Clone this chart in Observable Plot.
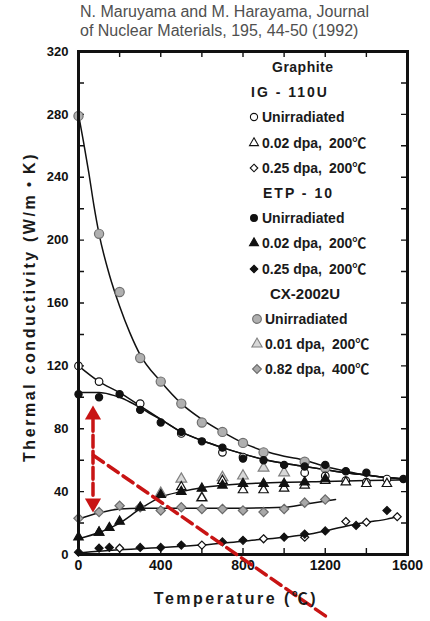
<!DOCTYPE html>
<html><head><meta charset="utf-8">
<script src="https://cdn.jsdelivr.net/npm/d3@7"></script>
<script src="https://cdn.jsdelivr.net/npm/@observablehq/plot@0.6"></script>
<style>
html,body{margin:0;padding:0;background:#fff;}
#wrap{position:relative;width:430px;height:621px;overflow:hidden;font-family:"Liberation Sans",Arial,"Noto Sans CJK JP",sans-serif;}
#cap{position:absolute;left:80px;top:2px;font-size:16px;line-height:19px;color:#505050;white-space:nowrap;}
#chart{position:absolute;left:0;top:42px;}
.lg{position:absolute;white-space:nowrap;font-size:14px;font-weight:bold;color:#1a1a1a;line-height:16px;display:flex;align-items:center;}
.lg svg{margin-right:2px;overflow:visible;}
.ttl{position:absolute;white-space:nowrap;font-size:16px;font-weight:bold;color:#1a1a1a;}
</style></head>
<body>
<div id="wrap">
  <div id="cap">N. Maruyama and M. Harayama, Journal<br>of Nuclear Materials, 195, 44-50 (1992)</div>
  <div id="chart"></div>
</div>
<script>
// ---------- data (temperature °C, thermal conductivity W/m·K) ----------
const xTickLabels = [0, 400, 800, 1200, 1600];
const xTicksMinor = [0, 200, 400, 600, 800, 1000, 1200, 1400, 1600];
const yTickLabels = [0, 40, 80, 120, 160, 200, 240, 280, 320];
const yTicksMinor = [0, 20, 40, 60, 80, 100, 120, 140, 160, 180, 200, 220, 240, 260, 280, 300, 320];

// IG-110U
const igUnirrT = [0, 100, 300, 500, 700, 800, 1100, 1200, 1300, 1400, 1500];
const igUnirrK = [120, 110, 96, 77, 65, 62, 52, 50, 47, 46, 48];
const ig002T = [100, 500, 600, 700, 800, 900, 1000, 1100, 1200, 1300, 1400, 1500];
const ig002K = [14, 43, 36, 47, 41, 41, 42, 44, 47, 46, 45, 45];
const ig025T = [200, 600, 900, 1100, 1300, 1400, 1550];
const ig025K = [4, 6, 10, 11, 21, 20.5, 24];

// ETP-10
const etpUnirrT = [0, 100, 200, 300, 400, 500, 600, 700, 800, 900, 1000, 1100, 1200, 1300, 1400, 1580];
const etpUnirrK = [102, 100, 102, 92, 84, 78, 72, 68, 61, 60, 57, 56, 57, 53, 52, 48];
const etp002T = [0, 100, 150, 200, 300, 400, 500, 600, 700, 800, 900, 1000, 1100, 1200];
const etp002K = [11, 14, 17, 21, 30, 38, 40, 42, 44, 45, 45, 45, 46, 48];
const etp025T = [0, 100, 150, 300, 400, 500, 700, 800, 1000, 1100, 1200, 1350, 1500];
const etp025K = [1.5, 4, 4.5, 4.5, 4.5, 6, 8, 9, 11, 13, 15, 18.5, 28];

// CX-2002U
const cxUnirrT = [0, 100, 200, 300, 400, 500, 600, 700, 800, 900, 1100, 1200];
const cxUnirrK = [279, 204, 167, 125, 110, 96, 84, 78, 71, 65, 59, 55];
const cx001T = [400, 500, 600, 700, 800, 900, 1000];
const cx001K = [39, 48, 36, 49, 50, 55, 52];
const cx082T = [0, 100, 200, 300, 400, 500, 600, 700, 800, 900, 1000, 1100, 1200];
const cx082K = [23, 27, 31, 30, 28, 30, 29, 29, 28, 27, 29, 33, 35];

// fitted curves
const fitCxT = [0, 25, 50, 75, 100, 150, 200, 250, 300, 400, 500, 600, 700, 800, 900, 1000, 1100, 1200, 1300, 1400, 1500, 1600];
const fitCxK = [280, 262, 243, 222, 204, 178, 158, 141, 127, 110, 96, 86, 78, 71, 66, 62.5, 60, 56, 53, 50.5, 49, 48];
const fitIgT = [0, 100, 200, 300, 400, 500, 600, 700, 800, 900, 1000, 1100, 1200, 1300, 1400, 1500, 1600];
const fitIgK = [120, 110, 103, 94.5, 86, 78, 72.5, 68, 64, 60.5, 58, 56, 54, 52, 50.5, 49, 48];
const fitEtpT = [0, 100, 150, 200, 250, 300, 350, 400, 500, 600, 700, 800, 900, 1000, 1100, 1200, 1300, 1400, 1500, 1600];
const fitEtpK = [103, 103, 102, 100, 97, 93.5, 89.5, 86, 78, 72.5, 68, 64, 60.5, 58, 56, 54, 52, 50.5, 49, 48];
const fitRiseT = [0, 100, 200, 300, 400, 500, 600, 700, 800, 900, 1000, 1200, 1400, 1600];
const fitRiseK = [10, 14, 20, 29, 36.5, 40, 42.5, 44, 45, 45.5, 46, 46.5, 47, 47.5];
const fitCx082T = [0, 100, 200, 300, 400, 600, 800, 1000, 1100, 1250];
const fitCx082K = [22.5, 26.5, 29, 29.5, 29.5, 29.5, 29.5, 30, 32, 35];
const fitLowT = [0, 200, 400, 600, 800, 1000, 1100, 1200, 1300, 1400, 1500, 1560];
const fitLowK = [1, 3, 4.5, 6, 8.5, 11, 12.5, 15, 18, 20.5, 22.5, 24.5];

// red annotation (arrow + dashed pointer)
const arrowT = [70.5, 70.5];
const arrowK = [86, 36];
const headTopT = [70.5], headTopK = [88.9];
const headBotT = [70.5], headBotK = [32.6];
const pointerT = [73, 1211];
const pointerK = [63, -40];

// legend labels
const legendRows = [
  {kind: "head", text: "Graphite"},
  {kind: "group", text: "IG - 110U"},
  {kind: "item", key: "igU", text: "Unirradiated"},
  {kind: "item", key: "ig02", text: "0.02 dpa,\u2002200\u2103"},
  {kind: "item", key: "ig25", text: "0.25 dpa,\u2002200\u2103"},
  {kind: "group", text: "ETP - 10"},
  {kind: "item", key: "etU", text: "Unirradiated"},
  {kind: "item", key: "et02", text: "0.02 dpa,\u2002200\u2103"},
  {kind: "item", key: "et25", text: "0.25 dpa,\u2002200\u2103"},
  {kind: "group2", text: "CX-2002U"},
  {kind: "item", key: "cxU", text: "Unirradiated"},
  {kind: "item", key: "cx01", text: "0.01 dpa,\u2002200\u2103"},
  {kind: "item", key: "cx82", text: "0.82 dpa,\u2002400\u2103"}
];

// ---------- styles ----------
const ST = {
  igU:  {sym: "circle",   fill: "#fff",    stroke: "#111", r: 3.8},
  ig02: {sym: "triangle", fill: "#fff",    stroke: "#111", r: 3.5},
  ig25: {sym: "diamond2", fill: "#fff",    stroke: "#111", r: 3.6},
  etU:  {sym: "circle",   fill: "#111",    stroke: "#111", r: 3.6},
  et02: {sym: "triangle", fill: "#111",    stroke: "#111", r: 3.5},
  et25: {sym: "diamond2", fill: "#111",    stroke: "#111", r: 3.6},
  cxU:  {sym: "circle",   fill: "#b0b0b0", stroke: "#707070", r: 4.6},
  cx01: {sym: "triangle", fill: "#d8d8d8", stroke: "#808080", r: 4},
  cx82: {sym: "diamond2", fill: "#a8a8a8", stroke: "#6a6a6a", r: 4.2}
};
const RED = "#c81414";

const W = 430, H = 579, ML = 78, MR = 23, MT = 9, MB = 67;
const innerW = W - ML - MR, innerH = H - MT - MB, TICK = 6;

const tab = (T, K) => T.map((t, i) => ({T: t, k: K[i]}));
const fitLine = (T, K) => Plot.line(tab(T, K), {x: "T", y: "k", curve: "monotone-x", stroke: "#111", strokeWidth: 1.5});
const dots = (T, K, s) => Plot.dot(tab(T, K), {x: "T", y: "k", symbol: s.sym, r: s.r, fill: s.fill, stroke: s.stroke, strokeWidth: 1.2});

const plot = Plot.plot({
  width: W,
  height: H,
  marginTop: MT,
  marginBottom: MB,
  marginLeft: ML,
  marginRight: MR,
  x: {domain: [0, 1600]},
  y: {domain: [0, 320]},
  style: {fontFamily: "'Liberation Sans', Arial, sans-serif", fontWeight: "bold", color: "#111", background: "transparent", overflow: "visible"},
  marks: [
    Plot.axisX({ticks: xTickLabels, tickSize: 0, tickPadding: 6, tickFormat: "d", label: null, fontSize: 14}),
    Plot.axisY({ticks: yTickLabels, tickSize: 0, tickPadding: 10, tickFormat: "d", label: null, fontSize: 13}),
    // inward tick marks at both ends of each grid position (dash at each end of a full-length rule)
    Plot.ruleX(xTicksMinor, {x: d => d, stroke: "#111", strokeWidth: 1.4, strokeDasharray: `${TICK},${innerH - 2 * TICK},${TICK}`}),
    Plot.ruleY(yTicksMinor, {y: d => d, stroke: "#111", strokeWidth: 1.4, strokeDasharray: `${TICK},${innerW - 2 * TICK},${TICK}`}),
    fitLine(fitCxT, fitCxK),
    fitLine(fitIgT, fitIgK),
    fitLine(fitEtpT, fitEtpK),
    fitLine(fitRiseT, fitRiseK),
    fitLine(fitCx082T, fitCx082K),
    fitLine(fitLowT, fitLowK),
    dots(cxUnirrT, cxUnirrK, ST.cxU),
    dots(cx001T, cx001K, ST.cx01),
    dots(cx082T, cx082K, ST.cx82),
    dots(igUnirrT, igUnirrK, ST.igU),
    dots(ig002T, ig002K, ST.ig02),
    dots(ig025T, ig025K, ST.ig25),
    dots(etpUnirrT, etpUnirrK, ST.etU),
    dots(etp002T, etp002K, ST.et02),
    dots(etp025T, etp025K, ST.et25),
    Plot.frame({stroke: "#111", strokeWidth: 3}),
    Plot.line(tab(arrowT, arrowK), {x: "T", y: "k", stroke: RED, strokeWidth: 3.5, strokeDasharray: "12,4"}),
    Plot.line(tab(pointerT, pointerK), {x: "T", y: "k", stroke: RED, strokeWidth: 3.5, strokeDasharray: "12,6"}),
    Plot.dot(tab(headTopT, headTopK), {x: "T", y: "k", symbol: "triangle", r: 6, fill: RED}),
    Plot.dot(tab(headBotT, headBotK), {x: "T", y: "k", symbol: "triangle", r: 6, fill: RED, rotate: 180})
  ]
});
document.getElementById("chart").appendChild(plot);

// ---------- legend (HTML overlay) ----------
const wrap = document.getElementById("wrap");
const symType = {circle: d3.symbolCircle, triangle: d3.symbolTriangle, diamond2: d3.symbolDiamond2};
legendRows.forEach((row, i) => {
  const y = 67 + i * 25.2;
  const div = document.createElement("div");
  div.className = "lg";
  div.style.top = (y - 8) + "px";
  if (row.kind === "head") {
    div.style.left = "272px"; div.style.fontSize = "14px"; div.style.letterSpacing = "0.5px";
    div.textContent = row.text;
  } else if (row.kind === "group") {
    div.style.left = (i < 5 ? 251 : 263) + "px"; div.style.letterSpacing = "2px";
    div.textContent = row.text;
  } else if (row.kind === "group2") {
    div.style.left = "270px"; div.style.fontSize = "15px";
    div.textContent = row.text;
  } else {
    const s = ST[row.key];
    const isCx = row.key.startsWith("cx");
    div.style.left = (isCx ? 251 : 248) + "px";
    const rr = s.r * 0.95;
    const svg = d3.create("svg").attr("width", 12).attr("height", 12);
    svg.append("path")
      .attr("transform", "translate(6,6)")
      .attr("d", d3.symbol(symType[s.sym], Math.PI * rr * rr)())
      .attr("fill", s.fill).attr("stroke", s.stroke).attr("stroke-width", 1.1);
    div.appendChild(svg.node());
    const sp = document.createElement("span");
    sp.textContent = row.text;
    div.appendChild(sp);
  }
  wrap.appendChild(div);
});

// axis titles
const yt = document.createElement("div");
yt.className = "ttl";
yt.textContent = "Thermal conductivity (W/m\u30FBK)";
yt.style.letterSpacing = "2.6px";
yt.style.left = "28px"; yt.style.top = "307px";
yt.style.transform = "translate(-50%,-50%) rotate(-90deg)";
wrap.appendChild(yt);
const xt = document.createElement("div");
xt.className = "ttl";
xt.textContent = "Temperature (\u2103)";
xt.style.letterSpacing = "2.5px";
xt.style.left = "236px"; xt.style.top = "597px";
xt.style.transform = "translate(-50%,-50%)";
wrap.appendChild(xt);
</script>
</body></html>
